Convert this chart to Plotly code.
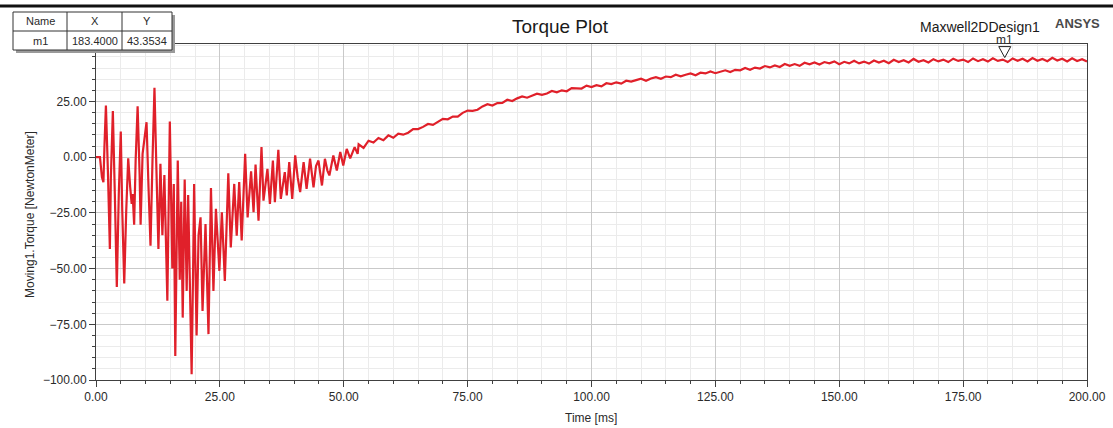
import plotly.graph_objects as go

# ---------------- data ----------------
osc_t = [0, 0.8, 1.2, 1.5, 1.7, 2.0, 2.4, 2.8, 3.0, 3.4, 3.8, 4.2, 4.6, 5.0, 5.3, 5.7, 6.1, 6.5, 6.9, 7.2,
         7.4, 7.7, 8.0, 8.4, 8.8, 9.0, 9.4, 9.8, 10.2, 10.6, 11.0, 11.4, 11.8, 12.2, 12.6, 13.0, 13.4, 13.8,
         14.4, 14.9, 15.4, 15.7, 16.0, 16.5, 16.9, 17.2, 17.5, 17.9, 18.3, 18.6, 19.3, 19.6,
         19.8, 20.3, 20.7, 21.1, 21.5, 22.1, 22.7, 23.2, 23.7, 24.2, 24.9, 25.4, 26.0, 26.7, 27.2, 27.9, 28.4,
         28.9, 29.4, 30.1, 30.6, 31.3, 31.8, 32.2, 32.8, 33.4, 33.8, 34.6, 35.1, 35.7, 36.1, 36.8, 37.3,
         38.1, 38.5, 39.0, 39.6, 40.2, 40.7, 41.2, 41.9, 42.5, 43.2, 43.9, 44.4, 44.9, 45.6, 46.2, 46.7,
         47.1, 47.9, 48.6, 49.3, 49.9, 50.6, 51.3, 52.2, 52.8]
osc_v = [0, 0, -9, -11.2, 4.5, 23.2, -6, -41.2, -9, 20.7, -16.5, -58.2, -16.5, 11.5, -24, -56.7, -24, -0.5, -13.5, -21,
         -16.5, -30.3, -1.5, 22.8, -7.5, -30.3, 1.5, 7.5, 15.7, -13.5, -39.7, -1.5, 31.2, -6, -41.2, -3, -35, -8,
         -64.4, 16, -50, -12, -89.2, -1.5, -55, -20, -72, -10, -60, -17, -97.4, -50,
         -12, -80, -35, -27, -69, -30, -79.4, -13.8, -60, -23.2, -51, -24.7, -55.5, -7.2, -40.5, -12, -35.2,
         -11.2, -37.4, 1.5, -27, -6.3, -24.7, -3.3, -28.5, 4.5, -19.5, -5.2, -21, -1.5, -20.2, 3.3, -18.7,
         -6.7, -17.2, -2.2, -18.7, 0.8, -9, -15.7, -2.2, -14.2, -0.7, -13.5, -4, -1.5, -12.7, -0.7, -6,
         -8.2, 0.8, -6, 2.3, -3.7, 3.7, -0.5, 4.5, 1.5]

rise_t = [53, 54, 55, 56, 57, 58, 59, 60, 61, 62, 63, 64, 65, 66, 67, 68, 69, 70, 71, 72, 73, 74, 75, 76, 77,
          78, 79, 80, 81, 82, 83, 84, 85, 86, 87, 88, 89, 90, 91, 92, 93, 94, 95, 96, 97, 98, 99, 100, 101,
          102, 103, 104, 105, 106, 107, 108, 109, 110, 111, 112, 113, 114, 115, 116, 117, 118, 119, 120, 121,
          122, 123, 124, 125, 126, 127, 128, 129, 130, 131, 132, 133, 134, 135, 136, 137, 138, 139, 140, 141,
          142, 143, 144, 145, 146, 147, 148, 149, 150, 151, 152, 153, 154, 155, 156, 157, 158, 159, 160, 161,
          162, 163, 164, 165, 166, 167, 168, 169, 170, 171, 172, 173, 174, 175, 176, 177, 178, 179, 180, 181,
          182, 183, 184, 185, 186, 187, 188, 189, 190, 191, 192, 193, 194, 195, 196, 197, 198, 199, 200]
rise_v = [5.8, 4.2, 7.4, 6.6, 8.6, 7.6, 9.8, 8.7, 10.6, 10.1, 11.0, 12.6, 12.6, 13.6, 14.9, 14.5, 15.8, 17.2,
          17.0, 18.2, 18.2, 19.9, 20.9, 20.8, 21.3, 22.8, 23.8, 23.2, 24.3, 24.4, 25.8, 25.2, 26.4, 27.3, 26.7,
          27.7, 28.5, 28.0, 28.6, 29.7, 29.1, 30.0, 29.6, 31.0, 30.9, 30.8, 32.1, 31.5, 32.3, 31.8, 33.2, 32.8,
          33.6, 33.0, 34.3, 33.9, 34.6, 35.2, 34.3, 35.3, 35.9, 35.2, 36.2, 35.9, 37.0, 36.3, 37.0, 37.6, 36.8,
          37.9, 37.6, 38.5, 37.7, 38.5, 39.0, 38.2, 39.2, 39.0, 40.0, 39.2, 40.2, 39.8, 40.9, 40.3, 41.2, 40.5,
          41.8, 41.0, 41.8, 41.0, 42.4, 41.7, 42.5, 41.6, 42.7, 42.1, 43.0, 41.7, 42.8, 42.1, 43.3, 42.1, 42.9,
          42.0, 43.4, 42.5, 43.3, 42.2, 43.7, 42.7, 43.5, 42.5, 44.1, 42.8, 43.5, 42.5, 44.0, 43.0, 43.8, 42.7,
          44.2, 43.2, 43.8, 42.7, 44.3, 43.1, 44.0, 42.9, 44.4, 43.2, 43.8, 42.7, 44.3, 43.3, 44.2, 43.0, 44.5,
          43.3, 44.1, 43.1, 44.6, 43.4, 44.2, 43.0, 44.4, 43.2, 44.0, 42.9]

marker_name = "m1"
marker_x = 183.4
marker_y = 43.3534

x_ticks = [0, 25, 50, 75, 100, 125, 150, 175, 200]
y_ticks = [-100, -75, -50, -25, 0, 25]

time = osc_t + rise_t
torque = osc_v + rise_v

# ---------------- layout geometry ----------------
W, H = 1113, 428
L, R, T, B = 96, 26, 44, 48
PW, PH = W - L - R, H - T - B


def px(xp):
    return (xp - L) / PW


def py(yp):
    return (H - B - yp) / PH


FONT = "Liberation Sans, Arial, sans-serif"
TXT = "#2a2a2a"

fig = go.Figure()
fig.add_trace(go.Scatter(x=time, y=torque, mode="lines",
                         line=dict(color="#e0202a", width=2.2), hoverinfo="skip",
                         showlegend=False))

axis_common = dict(showline=True, linecolor="#404040", linewidth=1, mirror=True,
                   ticks="outside", ticklen=6, tickcolor="#404040",
                   showgrid=True, gridcolor="#c9c9c9", gridwidth=1,
                   zeroline=False, tickformat=".2f", automargin=False,
                   tickfont=dict(family=FONT, size=12, color=TXT))

fig.update_xaxes(range=[0, 200], tickvals=x_ticks,
                 minor=dict(dtick=5, tick0=0, ticks="outside", ticklen=3, tickcolor="#404040",
                            showgrid=True, gridcolor="#ebebeb", gridwidth=1),
                 **axis_common)
fig.update_yaxes(range=[-100, 50.8], tickvals=y_ticks,
                 minor=dict(dtick=5, tick0=0, ticks="outside", ticklen=3, tickcolor="#404040",
                            showgrid=True, gridcolor="#ebebeb", gridwidth=1),
                 **axis_common)

shapes = []
# window top bar
shapes.append(dict(type="line", xref="paper", yref="paper", x0=px(0), x1=px(W), y0=py(6), y1=py(6),
                   line=dict(color="#111111", width=3), layer="above"))
# marker triangle (pixel-sized shape anchored at the marker point)
shapes.append(dict(type="path", xref="x", yref="y", xsizemode="pixel", ysizemode="pixel",
                   xanchor=marker_x, yanchor=marker_y,
                   path="M -6,14 L 6,14 L 0,3 Z",
                   line=dict(color="#222222", width=1), fillcolor="rgba(255,255,255,0)", layer="above"))
# marker table: shadow + box + dividers
tx0, tx1, ty0, ty1 = 13, 172, 12, 50
shapes.append(dict(type="rect", xref="paper", yref="paper", x0=px(tx0 + 3), x1=px(tx1 + 3),
                   y0=py(ty0 + 3), y1=py(ty1 + 3), line=dict(width=0), fillcolor="#9a9a9a", layer="above"))
shapes.append(dict(type="rect", xref="paper", yref="paper", x0=px(tx0), x1=px(tx1), y0=py(ty0), y1=py(ty1),
                   line=dict(color="#333333", width=1), fillcolor="white", layer="above"))
shapes.append(dict(type="line", xref="paper", yref="paper", x0=px(tx0), x1=px(tx1), y0=py(31), y1=py(31),
                   line=dict(color="#333333", width=1), layer="above"))
for cx in (67, 122):
    shapes.append(dict(type="line", xref="paper", yref="paper", x0=px(cx), x1=px(cx), y0=py(ty0), y1=py(ty1),
                       line=dict(color="#333333", width=1), layer="above"))

annotations = []


def ann(text, xp, yp, size=12, color=TXT, bold=False, xanchor="center"):
    annotations.append(dict(text=f"<b>{text}</b>" if bold else text, xref="paper", yref="paper",
                            x=px(xp), y=py(yp), xanchor=xanchor, yanchor="middle", showarrow=False,
                            font=dict(family=FONT, size=size, color=color)))


ann("Torque Plot", 560, 27, size=19, color="#1a1a1a")
ann("Maxwell2DDesign1", 980, 27, size=14, color="#1a1a1a")
ann("ANSYS", 1077, 24, size=13, color="#4a4a4a", bold=True)
ann("Time [ms]", 591, 418, size=12)
annotations.append(dict(text="Moving1.Torque [NewtonMeter]", xref="paper", yref="paper",
                        x=px(30), y=py(215), textangle=-90, showarrow=False,
                        xanchor="center", yanchor="middle",
                        font=dict(family=FONT, size=12, color=TXT)))
# table texts
ann("Name", 40, 21, size=11)
ann("X", 95, 21, size=11)
ann("Y", 147, 21, size=11)
ann(marker_name, 40, 41, size=11)
ann(f"{marker_x:.4f}", 95, 41, size=11)
ann(f"{marker_y:.4f}", 147, 41, size=11)
# marker label
annotations.append(dict(text=marker_name, x=marker_x, y=marker_y, xref="x", yref="y", showarrow=False,
                        yshift=21, font=dict(family=FONT, size=12, color=TXT)))

fig.update_layout(width=W, height=H, margin=dict(l=L, r=R, t=T, b=B),
                  paper_bgcolor="white", plot_bgcolor="white",
                  shapes=shapes, annotations=annotations, showlegend=False)

fig.write_html("out.html")
